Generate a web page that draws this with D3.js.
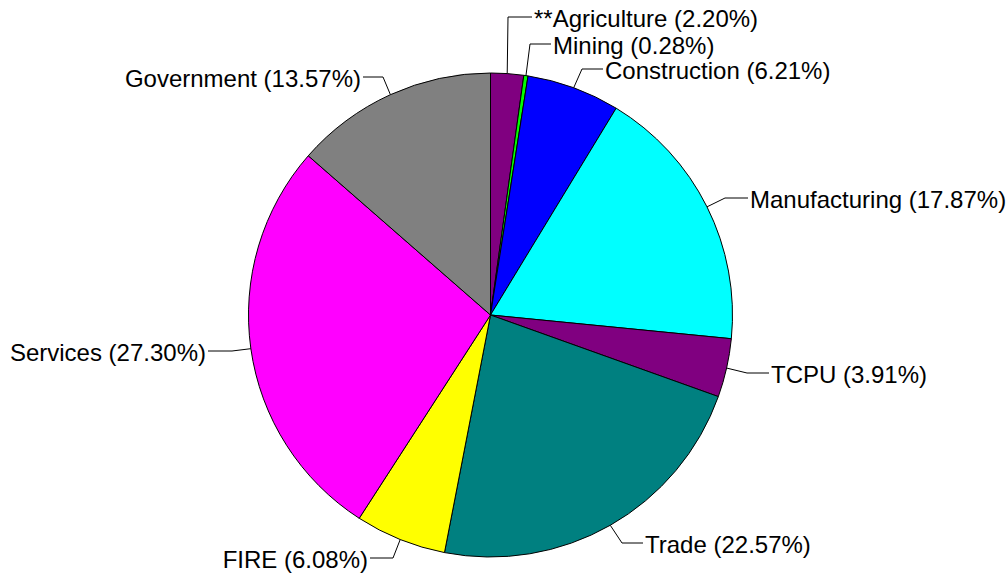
<!DOCTYPE html>
<html>
<head>
<meta charset="utf-8">
<script src="https://cdn.jsdelivr.net/npm/d3@7"></script>
<style>
  html, body { margin: 0; padding: 0; background: #fff; }
  svg { display: block; }
  text { font-family: "Liberation Sans", Arial, sans-serif; font-size: 24px; fill: #000; }
</style>
</head>
<body>
<svg id="chart" width="1008" height="575"></svg>
<script>
// ---- data ----
const categories = ["**Agriculture", "Mining", "Construction", "Manufacturing", "TCPU", "Trade", "FIRE", "Services", "Government"];
const shares = [2.20, 0.28, 6.21, 17.87, 3.91, 22.57, 6.08, 27.30, 13.57];
const colors = ["#800080", "#00FF00", "#0000FF", "#00FFFF", "#800080", "#008080", "#FFFF00", "#FF00FF", "#808080"];

// ---- label layout (elbow point, horizontal line end, side) ----
const labelLayout = [
  { ex: 508, ey: 17,  lx: 532, side: "right" },
  { ex: 530, ey: 44,  lx: 551, side: "right" },
  { ex: 582, ey: 69,  lx: 603, side: "right" },
  { ex: 725, ey: 198, lx: 748, side: "right" },
  { ex: 747, ey: 373, lx: 769, side: "right" },
  { ex: 622, ey: 543, lx: 643, side: "right" },
  { ex: 393, ey: 558, lx: 370, side: "left" },
  { ex: 232, ey: 351, lx: 208, side: "left" },
  { ex: 383, ey: 77,  lx: 363, side: "left" }
];

const cx = 490.5, cy = 315, R = 242;
const svg = d3.select("#chart");
const g = svg.append("g").attr("transform", `translate(${cx},${cy})`);

const data = categories.map((c, i) => ({ name: c, value: shares[i], color: colors[i], i }));
const pie = d3.pie().value(d => d.value).sort(null);
const arcs = pie(data);
const arc = d3.arc().innerRadius(0).outerRadius(R);

g.selectAll("path.slice")
  .data(arcs)
  .enter().append("path")
  .attr("class", "slice")
  .attr("d", arc)
  .attr("fill", d => d.data.color)
  .attr("stroke", "#000")
  .attr("stroke-width", 1)
  .attr("stroke-linejoin", "round");

// leader lines and labels
const fmt = d3.format(".2f");
arcs.forEach((a, i) => {
  const mid = (a.startAngle + a.endAngle) / 2;
  const px = cx + R * Math.sin(mid);
  const py = cy - R * Math.cos(mid);
  const L = labelLayout[i];
  svg.append("polyline")
    .attr("points", `${px},${py} ${L.ex},${L.ey} ${L.lx},${L.ey}`)
    .attr("fill", "none")
    .attr("stroke", "#000")
    .attr("stroke-width", 1);
  const right = L.side === "right";
  svg.append("text")
    .attr("x", right ? L.lx + 2 : L.lx - 2)
    .attr("y", L.ey + 10)
    .attr("text-anchor", right ? "start" : "end")
    .text(`${a.data.name} (${fmt(a.data.value)}%)`);
});
</script>
</body>
</html>
